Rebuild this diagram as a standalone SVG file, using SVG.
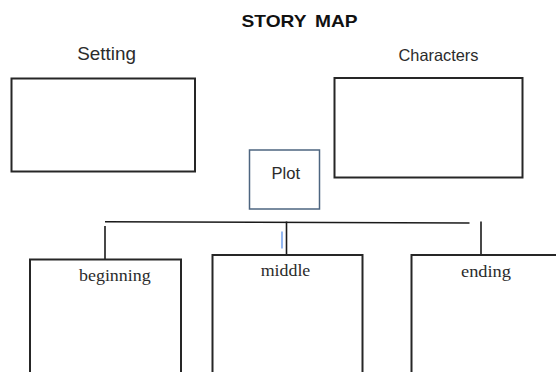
<svg xmlns="http://www.w3.org/2000/svg" width="556" height="372" viewBox="0 0 556 372">
<style>
.box{fill:#fff;stroke:#262626;stroke-width:2}
.plot{fill:#fff;stroke:#4d6580;stroke-width:1.5}
.sans{font-family:"Liberation Sans",Arial,sans-serif;fill:#2b2b2b}
.serif{font-family:"Liberation Serif","Times New Roman",serif;fill:#2b2b2b;font-size:17.5px}
.conn line{stroke:#1a1a1a;stroke-width:1.6}
</style>
<rect width="556" height="372" fill="#fff"/>
<text id="title" class="sans" x="241.5" y="26.7" font-size="16.3" font-weight="bold" word-spacing="3" textLength="116" lengthAdjust="spacingAndGlyphs" style="fill:#111">STORY MAP</text>
<g id="setting">
<text class="sans" x="77.3" y="60" font-size="18.6" textLength="58.7" lengthAdjust="spacingAndGlyphs">Setting</text>
<rect class="box" x="11.5" y="78.5" width="183.5" height="93"/>
</g>
<g id="characters">
<text class="sans" x="398.5" y="61" font-size="16.5" textLength="80" lengthAdjust="spacingAndGlyphs">Characters</text>
<rect class="box" x="334.5" y="78" width="188" height="99.5"/>
</g>
<g id="plot">
<rect class="plot" x="249.5" y="150" width="70" height="59"/>
<text class="sans" x="271.5" y="178.5" font-size="16" textLength="28.5" lengthAdjust="spacingAndGlyphs">Plot</text>
</g>
<g id="connectors" class="conn">
<line x1="105" y1="221.7" x2="469.5" y2="223"/>
<line x1="105" y1="226" x2="105" y2="259"/>
<line x1="286.5" y1="221.5" x2="286.5" y2="255"/>
<line x1="481" y1="221.5" x2="481" y2="255"/>
<line x1="282" y1="231.5" x2="282" y2="248.5" style="stroke:#4a86e8;stroke-width:1.2"/>
</g>
<g id="beginning">
<rect class="box" x="30" y="259.5" width="151" height="130"/>
<text class="serif" x="79" y="281" textLength="71.7" lengthAdjust="spacingAndGlyphs">beginning</text>
</g>
<g id="middle">
<rect class="box" x="212.5" y="255" width="150" height="130"/>
<text class="serif" x="260.7" y="275.5" textLength="49.6" lengthAdjust="spacingAndGlyphs">middle</text>
</g>
<g id="ending">
<rect class="box" x="411.5" y="255" width="160" height="130"/>
<text class="serif" x="461" y="276.5" textLength="50" lengthAdjust="spacingAndGlyphs">ending</text>
</g>
</svg>
